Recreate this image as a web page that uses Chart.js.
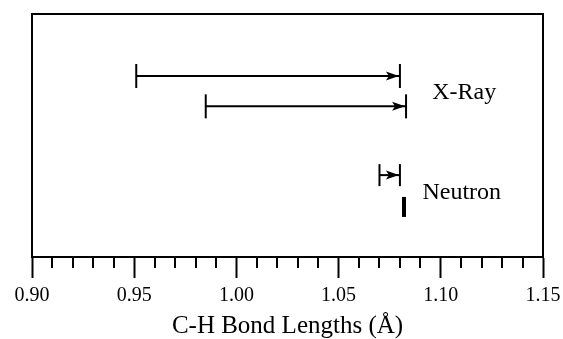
<!DOCTYPE html>
<html>
<head>
<meta charset="utf-8">
<script src="https://cdn.jsdelivr.net/npm/chart.js"></script>
<style>
  body { margin: 0; background: #fff; }
  #wrap { width: 563px; height: 339px; }
</style>
</head>
<body>
<div id="wrap"><canvas id="myChart"></canvas></div>
<script>
// measured C-H bond length ranges (Å)
var xrayFrom = [0.951, 0.985];
var xrayTo = [1.080, 1.083];
var neutronFrom = [1.070];
var neutronTo = [1.080];
var neutronPoint = [1.082];

var tickValues = [0.90, 0.95, 1.00, 1.05, 1.10, 1.15];
var tickLabels = ["0.90", "0.95", "1.00", "1.05", "1.10", "1.15"];

// vertical rows (hidden y axis, 0..10)
var xrayRows = [7.45, 6.2];
var neutronRow = 3.37;
var neutronBarRow = 2.06;

var FONT = "'Liberation Serif', 'Times New Roman', serif";

function rangeSet(from, to, row, capSize) {
    return {
        data: [{ x: from, y: row }, { x: to, y: row }],
        showLine: true,
        borderColor: '#000',
        borderWidth: 2,
        pointStyle: 'line',
        rotation: 90,
        pointRadius: capSize,
        pointBorderWidth: 2,
        pointBorderColor: '#000',
        arrow: true
    };
}

var datasets = [];
for (var i = 0; i < xrayFrom.length; i++) {
    datasets.push(rangeSet(xrayFrom[i], xrayTo[i], xrayRows[i], 12));
}
for (var j = 0; j < neutronFrom.length; j++) {
    datasets.push(rangeSet(neutronFrom[j], neutronTo[j], neutronRow, 11));
}
datasets.push({
    data: neutronPoint.map(function (v) { return { x: v, y: neutronBarRow }; }),
    pointStyle: 'line',
    rotation: 90,
    pointRadius: 10,
    pointBorderWidth: 4,
    pointBorderColor: '#000',
    showLine: false
});

var extras = {
    id: 'extras',
    afterDraw: function (chart) {
        var ctx = chart.ctx, a = chart.chartArea;
        var x = chart.scales.x, y = chart.scales.y;
        ctx.save();
        ctx.strokeStyle = '#000';
        ctx.fillStyle = '#000';
        ctx.lineWidth = 2;
        ctx.strokeRect(a.left, a.top, a.right - a.left, a.bottom - a.top);

        // minor ticks every 0.01
        for (var k = 1; k < 25; k++) {
            if (k % 5 === 0) continue;
            var px = Math.round(x.getPixelForValue(0.90 + k * 0.01));
            ctx.beginPath();
            ctx.moveTo(px, a.bottom);
            ctx.lineTo(px, a.bottom + 11);
            ctx.stroke();
        }

        // arrow heads at the right ends
        chart.data.datasets.forEach(function (ds, di) {
            if (!ds.arrow) return;
            var pts = chart.getDatasetMeta(di).data;
            var tip = pts[1];
            ctx.beginPath();
            ctx.moveTo(tip.x - 1, tip.y);
            ctx.lineTo(tip.x - 14, tip.y - 4.5);
            ctx.lineTo(tip.x - 11, tip.y);
            ctx.lineTo(tip.x - 14, tip.y + 4.5);
            ctx.closePath();
            ctx.fill();
        });

        ctx.font = '24px ' + FONT;
        ctx.textBaseline = 'middle';
        ctx.textAlign = 'left';
        ctx.fillText('X-Ray', x.getPixelForValue(1.0958), y.getPixelForValue(6.75));
        ctx.fillText('Neutron', x.getPixelForValue(1.091), y.getPixelForValue(2.64));
        ctx.restore();
    }
};

var ctx = document.getElementById('myChart').getContext('2d');
var chart = new Chart(ctx, {
    type: 'scatter',
    data: { datasets: datasets },
    options: {
        responsive: true,
        maintainAspectRatio: false,
        devicePixelRatio: 1,
        animation: false,
        layout: { padding: { left: 32, right: 20, top: 14, bottom: 0 } },
        plugins: { legend: { display: false }, tooltip: { enabled: false } },
        scales: {
            x: {
                type: 'linear',
                min: 0.90,
                max: 1.15,
                afterBuildTicks: function (scale) {
                    scale.ticks = tickValues.map(function (v) { return { value: v }; });
                },
                afterFit: function (scale) {
                    scale.paddingLeft = 0;
                    scale.paddingRight = 0;
                },
                ticks: {
                    color: '#000',
                    padding: 8,
                    maxRotation: 0,
                    font: { family: FONT, size: 20, lineHeight: 1 },
                    callback: function (v, idx) { return tickLabels[idx]; }
                },
                grid: {
                    drawOnChartArea: false,
                    drawTicks: true,
                    tickLength: 21,
                    tickWidth: 2,
                    tickColor: '#000'
                },
                border: { display: true, color: '#000', width: 2 },
                title: {
                    display: true,
                    text: 'C-H Bond Lengths (Å)',
                    color: '#000',
                    font: { family: FONT, size: 25, lineHeight: 1 },
                    padding: { top: 0, bottom: 0 }
                }
            },
            y: { display: false, min: 0, max: 10 }
        }
    },
    plugins: [extras]
});
</script>
</body>
</html>
